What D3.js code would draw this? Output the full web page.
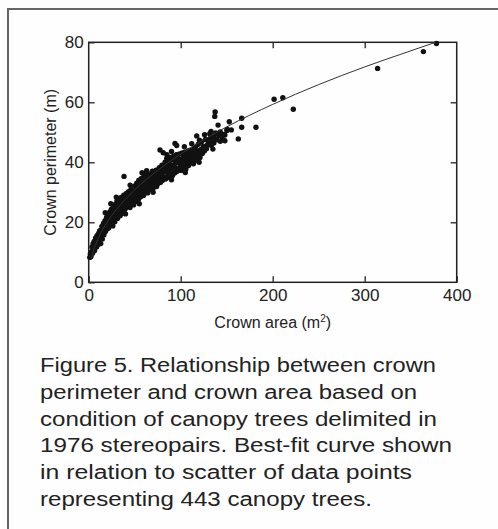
<!DOCTYPE html>
<html lang="en">
<head>
	<meta charset="UTF-8">
	<title>Crown perimeter vs crown area</title>
	<script src="https://cdn.jsdelivr.net/npm/d3@7"></script>
	<style>
		body{
			margin: 0px;
			background: #fefefe;
		}
		text{
			font-family: "Liberation Sans", Arial, sans-serif;
			fill: #222;
		}
	</style>
</head>
<body>
	<svg></svg>
	<script>
		// crown area (m2), crown perimeter (m) for the canopy trees
		var trees = [
			[1.2,8.3],[1.8,9.4],[2.5,8.6],[3.1,10.2],[3.6,11.8],[4.2,9.7],[4.8,12.9],[5.3,11.1],[5.9,13.6],[6.4,10.6],
			[7.0,12.4],[7.5,14.8],[8.1,13.3],[8.6,11.8],[9.2,15.6],[9.8,14.1],[10.3,12.6],[10.9,16.4],[11.4,13.8],[12.0,17.2],
			[12.6,15.0],[13.1,12.9],[13.7,16.1],[14.3,18.6],[14.8,14.4],[15.4,17.3],[16.0,19.6],[16.5,15.8],[17.1,18.4],[17.7,20.5],
			[18.2,16.9],[18.8,19.3],[19.4,21.6],[19.9,17.8],[20.5,22.4],[21.1,19.9],[21.6,18.1],[22.2,21.2],[22.8,23.4],[23.3,19.4],
			[23.9,22.0],[24.5,24.3],[25.0,20.6],[25.6,22.9],[26.2,18.8],[26.7,25.1],[27.3,21.7],[27.9,23.8],[28.4,20.2],[29.0,26.0],
			[29.6,22.4],[30.1,24.6],[30.7,27.1],[31.3,21.3],[31.8,25.5],[32.4,23.3],[33.0,27.6],[33.5,24.1],[34.1,22.2],[34.7,26.4],
			[35.2,28.3],[35.8,24.8],[36.4,23.0],[36.9,27.2],[37.5,25.6],[38.1,29.0],[38.4,35.3],[38.6,23.9],[39.2,26.5],[39.8,28.1],
			[40.3,24.7],[40.9,29.6],[41.5,27.0],[42.0,25.3],[42.6,28.6],[43.2,30.2],[43.7,26.1],[44.3,27.8],[44.9,24.9],[45.4,29.4],
			[46.0,31.0],[46.6,26.8],[47.1,28.5],[47.7,30.4],[48.3,27.3],[48.8,25.8],[49.4,29.7],[50.0,32.1],[50.5,28.2],[51.1,30.6],
			[51.7,26.9],[52.2,33.0],[52.8,29.2],[53.4,31.5],[53.9,27.6],[54.5,34.0],[55.1,30.1],[55.6,32.4],[56.2,28.4],[56.8,31.0],
			[57.3,34.6],[57.9,29.5],[58.5,33.1],[59.0,31.6],[59.6,28.9],[60.2,35.6],[60.7,32.2],[61.3,30.3],[61.9,34.2],[62.4,36.4],
			[63.0,31.3],[63.6,33.5],[64.1,29.8],[64.7,35.1],[65.3,32.7],[65.8,30.9],[66.4,36.0],[67.0,34.0],[67.5,31.8],[68.1,35.5],
			[68.7,33.1],[69.2,37.0],[69.8,31.2],[70.4,34.6],[71.0,36.3],[71.5,32.5],[72.1,35.0],[72.7,33.6],[73.2,37.4],[73.8,31.9],
			[74.4,35.9],[75.0,34.2],[75.5,32.9],[76.1,36.8],[76.7,38.2],[77.3,34.8],[77.5,44.1],[77.8,33.3],[78.4,37.3],[79.0,35.6],
			[79.6,39.0],[80.1,33.9],[80.7,36.6],[81.0,43.2],[81.3,38.5],[81.9,35.0],[82.4,37.9],[83.0,40.0],[83.6,34.4],[84.2,36.9],
			[84.8,41.3],[85.3,38.7],[85.9,35.5],[86.5,40.4],[87.1,37.2],[87.6,34.9],[88.2,39.4],[88.8,41.6],[89.4,36.1],[89.9,38.3],
			[90.5,40.9],[91.1,35.6],[91.7,37.7],[92.2,42.0],[92.8,39.2],[93.4,36.4],[93.8,46.3],[94.0,40.5],[94.6,38.0],[95.2,42.5],
			[95.6,45.6],[95.8,36.9],[96.3,39.8],[96.9,41.4],[97.5,37.6],[98.1,40.1],[98.7,42.8],[99.2,38.4],[99.8,41.0],[100.4,37.3],
			[101.0,39.6],[101.6,43.1],[102.1,40.6],[102.7,38.0],[103.3,41.9],[103.9,39.1],[104.5,43.4],[105.1,40.3],[105.6,37.8],[106.2,42.2],
			[106.8,39.7],[107.4,41.1],[108.0,43.8],[108.6,38.9],[109.1,42.6],[109.7,40.6],[110.3,44.0],[110.9,39.9],[111.5,42.0],[112.1,40.9],
			[112.7,43.2],[113.3,41.5],[113.8,39.5],[114.4,44.5],[115.0,42.3],[115.6,40.6],[116.2,45.1],[116.8,41.7],[117.4,48.8],[117.9,43.6],
			[118.5,40.9],[119.1,46.0],[119.7,42.5],[120.3,47.4],[121.0,41.6],[121.6,44.2],[122.8,46.9],[123.5,42.9],[124.6,45.4],[125.7,43.8],
			[126.9,47.6],[128.0,44.5],[129.2,45.9],[130.4,46.5],[131.6,49.5],[132.2,48.0],[133.3,45.6],[134.5,47.2],[135.6,48.6],[136.0,46.4],
			[137.0,55.3],[137.4,56.8],[138.1,49.8],[139.2,47.5],[140.6,52.4],[141.3,48.9],[143.0,50.1],[145.2,47.9],[146.3,49.3],[148.0,49.1],
			[150.2,50.6],[150.5,51.0],[152.8,53.5],[162.6,47.8],[166.3,51.7],[166.3,54.7],[181.8,51.7],[201.5,61.0],[211.0,61.5],[222.4,57.7],
			[314.0,71.3],[363.8,76.9],[378.0,79.6],
			[18.0,23.2],[24.0,26.2],[30.0,28.4],[45.0,32.4],[58.0,36.5],[63.0,37.2],[85.0,42.5],[90.0,43.6],[104.0,45.2],[112.0,46.2],
			[126.0,49.2],[133.0,50.3],[143.0,47.0],[155.0,50.8],[40.0,22.8],[55.0,26.2],[70.0,30.0],[90.0,34.2],[105.0,36.6],[120.0,40.0],
			[135.0,44.4],[148.0,47.2]
		];

		// best-fit curve, points
		var fitArea = [3, 5, 10, 20, 30, 50, 75, 110, 150, 200, 250, 300, 340, 377];
		var fitPerimeter = [8.2, 10.4, 14.4, 20.0, 24.2, 30.8, 37.3, 44.7, 51.8, 59.3, 65.9, 71.8, 76.1, 80.0];

		var xTicks = [0, 100, 200, 300, 400];
		var yTicks = [0, 20, 40, 60, 80];

		var caption = [
			"Figure 5. Relationship between crown",
			"perimeter and crown area based on",
			"condition of canopy trees delimited in",
			"1976 stereopairs. Best-fit curve shown",
			"in relation to scatter of data points",
			"representing 443 canopy trees."
		];
		var captionWidths = [396, 377, 397, 412, 372, 332];

		var w = 498,
			h = 529,
			svg = d3.select("svg").attr("width", w).attr("height", h);

		var mLeft = 88.7, mRight = 456.7, mTop = 42.3, mBottom = 282.3;

		var x = d3.scaleLinear().domain([0, 400]).range([mLeft, mRight]),
			y = d3.scaleLinear().domain([0, 80]).range([mBottom, mTop]);

		// outer frame (left and top edges only visible)
		svg.append("path")
			.attr("d", "M8,529 V9 H498")
			.attr("fill", "none")
			.attr("stroke", "#666")
			.attr("stroke-width", 2);

		// inward ticks on all sides, labels bottom/left
		var tk = 6;
		svg.append("g").attr("transform", "translate(0," + mBottom + ")")
			.call(d3.axisBottom(x).tickValues(xTicks).tickSizeInner(-tk).tickSizeOuter(0).tickPadding(7))
			.call(g => g.select(".domain").remove());
		svg.append("g").attr("transform", "translate(0," + mTop + ")")
			.call(d3.axisTop(x).tickValues(xTicks.slice(1, -1)).tickSizeInner(-tk).tickSizeOuter(0).tickFormat(""))
			.call(g => g.select(".domain").remove());
		svg.append("g").attr("transform", "translate(" + mLeft + ",0)")
			.call(d3.axisLeft(y).tickValues(yTicks).tickSizeInner(-tk).tickSizeOuter(0).tickPadding(5))
			.call(g => g.select(".domain").remove());
		svg.append("g").attr("transform", "translate(" + mRight + ",0)")
			.call(d3.axisRight(y).tickValues(yTicks.slice(1, -1)).tickSizeInner(-tk).tickSizeOuter(0).tickFormat(""))
			.call(g => g.select(".domain").remove());

		svg.selectAll(".tick line").attr("stroke", "#222").attr("stroke-width", 1.3);
		svg.selectAll(".tick text").attr("font-size", 17).attr("font-family", "Liberation Sans, Arial, sans-serif").attr("fill", "#222");

		svg.append("rect")
			.attr("x", mLeft).attr("y", mTop)
			.attr("width", mRight - mLeft).attr("height", mBottom - mTop)
			.attr("fill", "none").attr("stroke", "#222").attr("stroke-width", 1.5);

		// points
		svg.append("g").selectAll("circle")
			.data(trees)
			.enter().append("circle")
			.attr("cx", d => x(d[0]))
			.attr("cy", d => y(d[1]))
			.attr("r", 2.7)
			.attr("fill", "#111");

		// fitted curve
		var line = d3.line().x(d => x(d[0])).y(d => y(d[1])).curve(d3.curveMonotoneX);
		svg.append("path")
			.datum(d3.zip(fitArea, fitPerimeter))
			.attr("d", line)
			.attr("fill", "none")
			.attr("stroke", "#333")
			.attr("stroke-width", 1);

		// axis titles
		var xt = svg.append("text")
			.attr("x", (mLeft + mRight) / 2)
			.attr("y", 328)
			.attr("text-anchor", "middle")
			.attr("font-size", 16);
		xt.append("tspan").text("Crown area (m");
		xt.append("tspan").attr("dy", -6).attr("font-size", 10).text("2");
		xt.append("tspan").attr("dy", 6).text(")");

		svg.append("text")
			.attr("transform", "translate(56," + ((mTop + mBottom) / 2) + ") rotate(-90)")
			.attr("text-anchor", "middle")
			.attr("font-size", 16)
			.text("Crown perimeter (m)");

		// caption
		svg.append("g").selectAll("text")
			.data(caption)
			.enter().append("text")
			.attr("x", 40)
			.attr("y", (d, i) => 372 + i * 26.8)
			.attr("font-size", 20)
			.attr("fill", "#2a2a2a")
			.attr("textLength", (d, i) => captionWidths[i])
			.attr("lengthAdjust", "spacingAndGlyphs")
			.text(d => d);
	</script>
</body>
</html>
